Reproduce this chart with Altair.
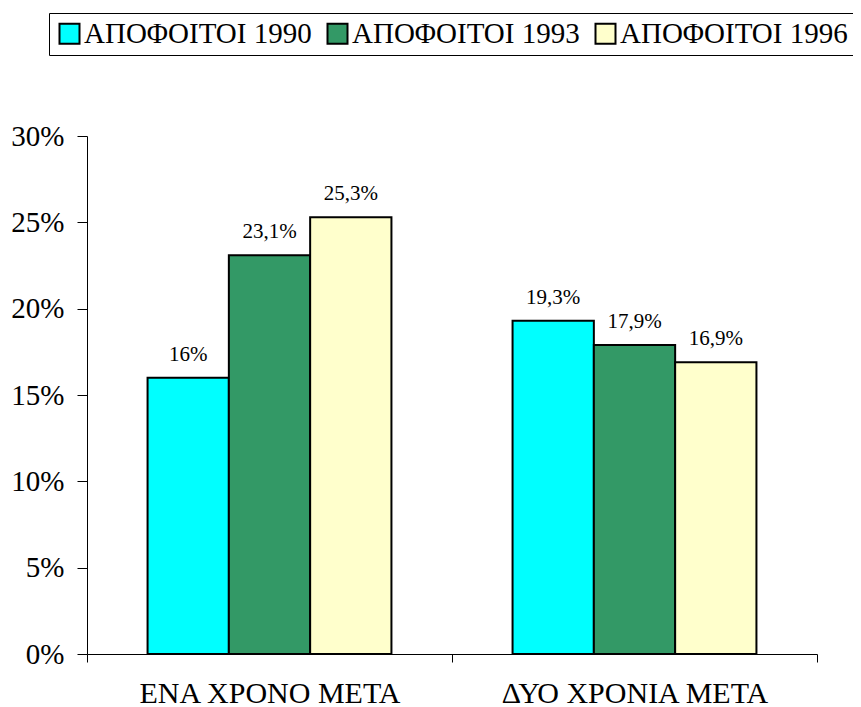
import altair as alt
import pandas as pd

categories = ["ΕΝΑ ΧΡΟΝΟ ΜΕΤΑ", "ΔΥΟ ΧΡΟΝΙΑ ΜΕΤΑ"]
series = ["ΑΠΟΦΟΙΤΟΙ 1990", "ΑΠΟΦΟΙΤΟΙ 1993", "ΑΠΟΦΟΙΤΟΙ 1996"]
values_1990 = [16.0, 19.3]
values_1993 = [23.1, 17.9]
values_1996 = [25.3, 16.9]
colors = ["#00FFFF", "#339966", "#FFFFCC"]
y_ticks = [0, 0.05, 0.10, 0.15, 0.20, 0.25, 0.30]

rows = []
for s, vals in zip(series, [values_1990, values_1993, values_1996]):
    for c, v in zip(categories, vals):
        rows.append({"cat": c, "series": s, "value": v / 100,
                     "label": f"{v:g}%".replace(".", ",")})
df = pd.DataFrame(rows)

FONT = "Liberation Serif"

x_enc = alt.X("cat:N", sort=categories,
              scale=alt.Scale(paddingInner=0, paddingOuter=0),
              axis=alt.Axis(title=None, labelAngle=0, tickBand="extent",
                            labelFontSize=30, labelFont=FONT, labelColor="black",
                            labelPadding=16, tickSize=8, tickColor="black",
                            domainColor="black", labelLimit=400))
xoff_enc = alt.XOffset("series:N", sort=series,
                       scale=alt.Scale(paddingInner=0, paddingOuter=0.745))
y_enc = alt.Y("value:Q", scale=alt.Scale(domain=[0, 0.3], nice=False),
              axis=alt.Axis(title=None, format=".0%", values=y_ticks, grid=False,
                            labelFontSize=29, labelFont=FONT, labelColor="black",
                            labelPadding=13, tickSize=10, tickColor="black",
                            domainColor="black"))

bars = alt.Chart(df).mark_bar(stroke="black", strokeWidth=2).encode(
    x=x_enc, xOffset=xoff_enc, y=y_enc,
    color=alt.Color("series:N", sort=series,
                    scale=alt.Scale(domain=series, range=colors),
                    legend=alt.Legend(orient="none", legendX=-38, legendY=-123,
                                      direction="horizontal", title=None,
                                      symbolType="square", symbolSize=400,
                                      symbolStrokeColor="black", symbolStrokeWidth=2,
                                      symbolOpacity=1,
                                      labelFontSize=29, labelFont=FONT,
                                      labelColor="black", labelOffset=0,
                                      labelLimit=400, columnPadding=11,
                                      strokeColor="black", fillColor="white",
                                      padding=6)),
)

text = alt.Chart(df).mark_text(baseline="alphabetic", dy=-17, fontSize=21,
                               font=FONT, color="black").encode(
    x=alt.X("cat:N", sort=categories), xOffset=alt.XOffset("series:N", sort=series),
    y=alt.Y("value:Q"), text="label:N")

chart = alt.layer(bars, text).properties(
    width=730, height=518,
    padding={"left": 79, "top": 128, "right": 36, "bottom": 53},
    autosize=alt.AutoSizeParams(type="none"),
).configure_view(stroke=None)

chart.save("out.html", embed_options={"renderer": "svg", "actions": False})
